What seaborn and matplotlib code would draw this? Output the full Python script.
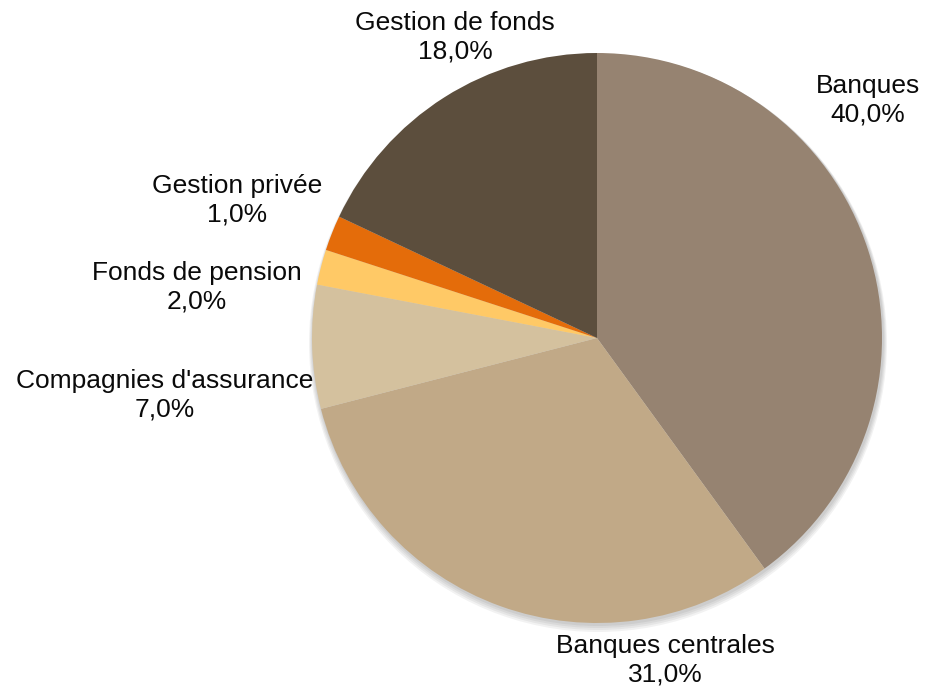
import matplotlib.pyplot as plt
from matplotlib.patches import Circle
import seaborn as sns

# shares as drawn (slice sizes) and the printed labels
categories = [
    "Banques",
    "Banques centrales",
    "Compagnies d'assurance",
    "Fonds de pension",
    "Gestion privée",
    "Gestion de fonds",
]
shares = [40.0, 31.0, 7.0, 2.0, 2.0, 18.0]
shown_pct = ["40,0%", "31,0%", "7,0%", "2,0%", "1,0%", "18,0%"]
slice_colors = ["#968371", "#C1A987", "#D4C19E", "#FFC966", "#E46C0A", "#5C4E3D"]

# label anchor points in figure pixels (x, y from top)
label_pos = [
    (868, 100),
    (665, 660),
    (165, 395),
    (197, 287),
    (237, 200),
    (455, 37),
]

sns.set_theme(style="white")
plt.rcParams["font.family"] = ["Liberation Sans Narrow", "Liberation Sans", "DejaVu Sans"]

W, H = 929, 698
cx, cy, r = 597, H - 338, 285

fig = plt.figure(figsize=(W / 100, H / 100), dpi=100)
ax = fig.add_axes([0, 0, 1, 1])

# soft drop shadow under the pie
for k in range(4):
    ax.add_patch(Circle((cx + 1, cy - 2 - k), r + 1 + k, color="black",
                        alpha=0.05, lw=0, zorder=0))

wedges, _ = ax.pie(
    shares,
    colors=sns.color_palette(slice_colors),
    startangle=90,
    counterclock=False,
    center=(cx, cy),
    radius=r,
    wedgeprops={"linewidth": 0},
)

ax.set_xlim(0, W)
ax.set_ylim(0, H)
ax.set_aspect("equal")
ax.axis("off")

for name, pct, (x, y) in zip(categories, shown_pct, label_pos):
    ax.text(x, H - y, f"{name}\n{pct}", ha="center", va="center",
            fontsize=19, color="#0a0a0a", linespacing=1.25)

fig.savefig("out.png", dpi=100)
